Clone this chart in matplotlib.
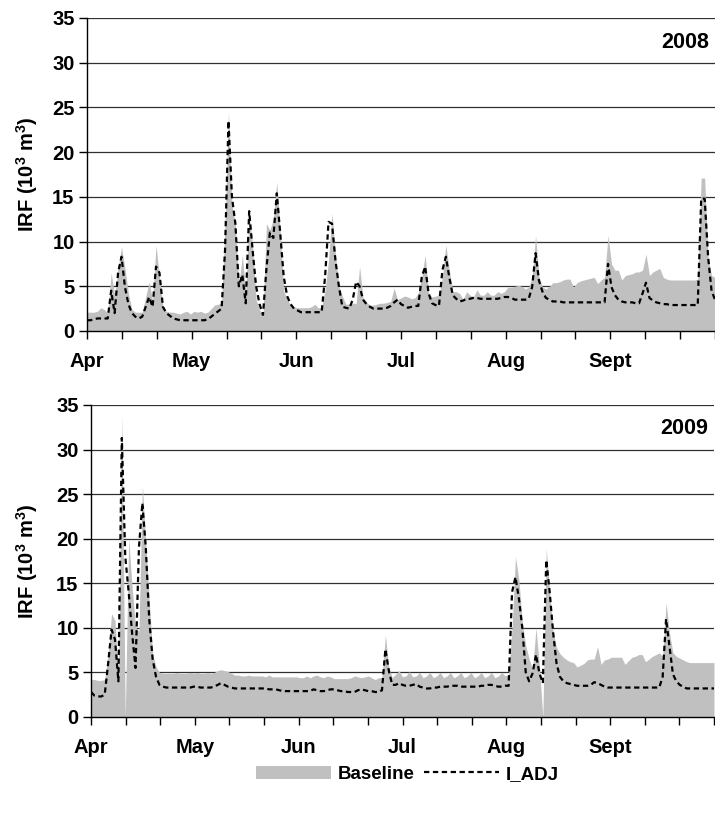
import numpy as np
import matplotlib.pyplot as plt
from matplotlib.patches import Patch
from matplotlib.lines import Line2D

plt.rcParams['font.family'] = ['Liberation Sans', 'DejaVu Sans']
plt.rcParams['font.weight'] = 'bold'
plt.rcParams['mathtext.fontset'] = 'custom'
plt.rcParams['mathtext.bf'] = 'Liberation Sans:bold'
plt.rcParams['mathtext.rm'] = 'Liberation Sans:bold'

#Month labels (every third tick) and panel years
monthLabels = ['Apr', 'May', 'Jun', 'Jul', 'Aug', 'Sept']
yearLabels = ['2008', '2009']

#Daily IRF values (10^3 m^3), 1 Apr - 30 Sept
baseline2008 = [
    2.1, 2.1, 2.1, 2.2, 2.6, 2.4, 2.0, 6.5, 4.0, 7.0,
    9.4, 7.0, 4.2, 2.4, 2.1, 2.1, 2.1, 3.8, 5.5, 3.4,
    9.6, 6.0, 2.6, 2.2, 2.1, 2.1, 2.0, 1.9, 2.1, 2.2,
    1.9, 2.2, 2.1, 2.2, 2.0, 2.1, 2.5, 2.9, 3.0, 3.1,
    12.0, 24.5, 14.0, 12.0, 5.0, 8.5, 4.4, 13.2, 9.4, 3.5,
    2.4, 1.6, 12.0, 11.3, 12.5, 16.7, 11.0, 4.5, 3.5, 2.9,
    2.7, 2.6, 2.6, 2.6, 2.6, 2.7, 3.0, 2.6, 2.6, 4.6,
    7.9, 13.2, 8.5, 5.0, 3.9, 3.0, 3.0, 3.1, 3.1, 7.2,
    3.7, 3.2, 2.9, 2.9, 3.0, 3.1, 3.1, 3.2, 3.3, 4.8,
    3.5, 3.7, 3.9, 3.8, 3.6, 3.7, 4.2, 6.0, 8.5, 4.2,
    3.8, 3.9, 4.0, 6.0, 9.6, 6.8, 4.4, 4.4, 4.2, 3.5,
    4.4, 4.0, 3.8, 4.6, 4.0, 4.0, 4.4, 4.0, 4.0, 4.4,
    4.2, 4.4, 4.9, 4.9, 5.0, 5.1, 5.0, 4.7, 4.9, 6.0,
    10.7, 6.0, 4.9, 4.7, 5.0, 5.4, 5.4, 5.5, 5.7, 5.8,
    5.8, 4.9, 5.4, 5.6, 5.7, 5.8, 5.9, 6.0, 5.3, 5.7,
    6.0, 10.7, 7.5, 6.8, 6.8, 5.7, 6.2, 6.3, 6.4, 6.6,
    6.6, 6.8, 8.6, 6.2, 6.6, 6.8, 7.0, 6.0, 5.8, 5.7,
    5.7, 5.7, 5.7, 5.7, 5.7, 5.7, 5.7, 5.8, 17.1, 17.1,
    8.1, 6.2, 6.0]
iadj2008 = [
    1.2, 1.2, 1.3, 1.4, 1.4, 1.4, 1.4, 4.5, 2.0, 6.5,
    8.3, 4.9, 3.0, 2.0, 1.6, 1.4, 1.6, 2.7, 3.8, 2.7,
    7.2, 6.5, 2.7, 2.0, 1.7, 1.4, 1.3, 1.2, 1.2, 1.2,
    1.2, 1.2, 1.2, 1.2, 1.2, 1.3, 1.6, 1.9, 2.2, 2.5,
    9.0, 23.5, 15.0, 12.0, 5.0, 6.3, 3.1, 13.4, 9.0, 5.0,
    3.0, 1.8, 7.0, 11.0, 10.4, 15.4, 10.9, 6.1, 3.9, 3.0,
    2.5, 2.3, 2.1, 2.1, 2.1, 2.1, 2.1, 2.1, 2.1, 6.1,
    12.2, 12.0, 7.9, 5.0, 2.7, 2.6, 2.5, 3.5, 5.5, 5.0,
    3.5, 3.0, 2.7, 2.5, 2.5, 2.5, 2.5, 2.6, 2.8, 3.2,
    3.5, 3.0, 2.8, 2.6, 2.7, 2.8, 2.8, 6.0, 7.2, 4.2,
    3.1, 2.9, 2.8, 6.8, 8.3, 6.0, 4.0, 3.6, 3.3, 3.4,
    3.6, 3.6, 3.7, 3.7, 3.6, 3.6, 3.6, 3.6, 3.6, 3.6,
    3.7, 3.8, 3.8, 3.7, 3.5, 3.5, 3.5, 3.5, 3.6, 4.9,
    8.7, 5.6, 4.4, 3.7, 3.5, 3.3, 3.3, 3.3, 3.2, 3.2,
    3.2, 3.2, 3.2, 3.2, 3.2, 3.2, 3.2, 3.2, 3.2, 3.2,
    3.2, 7.5, 4.9, 4.0, 3.5, 3.3, 3.2, 3.2, 3.2, 3.1,
    3.1, 4.2, 5.4, 3.7, 3.4, 3.2, 3.1, 3.0, 3.0, 2.9,
    2.9, 2.9, 2.9, 2.9, 2.9, 2.9, 2.9, 2.9, 14.8, 14.8,
    8.3, 4.5, 3.5]
baseline2009 = [
    4.2, 4.2, 4.1, 4.1, 4.2, 7.0, 11.6, 10.8, 4.5, 33.9,
    0.0, 20.1, 14.6, 10.1, 9.6, 26.0, 19.5, 13.1, 7.1, 5.6,
    5.0, 4.9, 4.9, 4.9, 4.9, 5.0, 4.9, 4.9, 4.9, 5.0,
    4.9, 5.0, 4.9, 4.9, 5.0, 4.9, 5.0, 5.2, 5.3, 5.2,
    5.1, 4.9, 4.7, 4.7, 4.6, 4.6, 4.7, 4.6, 4.6, 4.6,
    4.6, 4.5, 4.7, 4.5, 4.5, 4.5, 4.5, 4.5, 4.5, 4.5,
    4.5, 4.4, 4.4, 4.6, 4.4, 4.6, 4.7, 4.5, 4.4, 4.6,
    4.5, 4.3, 4.3, 4.3, 4.3, 4.3, 4.4, 4.6, 4.5, 4.4,
    4.5, 4.6, 4.4, 4.2, 4.4, 4.4, 9.2, 5.6, 4.4, 4.8,
    5.2, 4.5, 4.6, 5.1, 4.5, 4.6, 5.0, 4.4, 4.6, 5.0,
    4.4, 4.6, 5.0, 4.4, 4.6, 5.0, 4.4, 4.6, 5.0, 4.4,
    4.6, 5.0, 4.4, 4.6, 5.0, 4.4, 4.6, 5.0, 4.4, 4.6,
    5.0, 4.6, 4.8, 10.0, 18.0, 15.4, 10.6, 8.0, 6.5, 5.4,
    10.0, 5.7, 0.0, 18.9, 14.0, 9.5, 7.8, 7.1, 6.7, 6.4,
    6.2, 6.1, 5.6, 5.8, 6.0, 6.4, 6.5, 6.5, 7.9, 5.9,
    6.4, 6.5, 6.7, 6.7, 6.7, 6.7, 5.9, 6.3, 6.7, 6.8,
    7.0, 7.0, 6.2, 6.5, 6.8, 7.0, 7.2, 6.8, 12.8, 9.4,
    7.2, 6.8, 6.6, 6.4, 6.2, 6.1, 6.1, 6.1, 6.1, 6.1,
    6.1, 6.1, 6.1]
iadj2009 = [
    2.8, 2.4, 2.3, 2.3, 2.5, 6.0, 9.8, 8.7, 4.0, 31.3,
    18.0, 14.0, 9.4, 5.5, 19.0, 24.0, 19.0, 11.0, 6.5, 4.5,
    3.6, 3.4, 3.3, 3.3, 3.3, 3.3, 3.3, 3.3, 3.3, 3.3,
    3.4, 3.4, 3.3, 3.3, 3.3, 3.3, 3.4, 3.6, 3.8, 3.6,
    3.4, 3.3, 3.2, 3.2, 3.2, 3.2, 3.2, 3.2, 3.2, 3.2,
    3.2, 3.2, 3.1, 3.1, 3.1, 3.0, 2.9, 2.9, 2.9, 2.9,
    2.9, 2.9, 2.9, 2.9, 2.9, 3.1, 3.0, 2.9, 2.9, 3.0,
    3.1, 3.1, 3.0, 2.9, 2.9, 2.8, 2.8, 2.8, 3.0, 3.1,
    3.0, 2.9, 2.9, 2.8, 2.8, 3.0, 7.6, 5.2, 3.6, 3.6,
    3.8, 3.6, 3.5, 3.5, 3.6, 3.7, 3.4, 3.3, 3.2, 3.2,
    3.3, 3.3, 3.4, 3.4, 3.4, 3.5, 3.5, 3.5, 3.4, 3.4,
    3.4, 3.4, 3.4, 3.4, 3.5, 3.5, 3.6, 3.6, 3.5, 3.4,
    3.4, 3.5, 3.5, 14.0, 15.7, 13.3, 10.0, 5.0, 4.0, 4.9,
    7.0, 4.9, 3.8, 17.6, 14.0, 9.5, 6.0, 4.5, 4.0, 3.8,
    3.7, 3.6, 3.5, 3.5, 3.5, 3.5, 3.6, 3.9, 3.8, 3.6,
    3.4, 3.3, 3.3, 3.3, 3.3, 3.3, 3.3, 3.3, 3.3, 3.3,
    3.3, 3.3, 3.3, 3.3, 3.3, 3.3, 3.3, 4.5, 11.0, 7.9,
    4.8, 4.0, 3.6, 3.4, 3.2, 3.2, 3.2, 3.2, 3.2, 3.2,
    3.2, 3.2, 3.2]

fillColour = '#c0c0c0'
dashStyle = (0, (2.4, 1.6))

fig = plt.figure(figsize=(7.15, 8.14), dpi=100)
axTop = fig.add_axes([0.1217, 0.5934, 0.8783, 0.3845])
axBottom = fig.add_axes([0.1273, 0.1192, 0.8713, 0.3833])

def drawPanel(ax, baseline, iadj, year, labelX):
    days = np.arange(len(baseline))
    ax.fill_between(days, 0, baseline, color=fillColour, lw=0, zorder=2)
    ax.plot(days, iadj, color='black', lw=1.6, ls=dashStyle, zorder=3)

    #Axis limits, ticks every ~10 days, month label every third tick
    ax.set_xlim(0, len(baseline) - 1)
    ax.set_ylim(0, 35)
    ax.set_yticks(range(0, 36, 5))
    ax.set_xticks(np.linspace(0, len(baseline) - 1, 19))
    ax.set_xticklabels([monthLabels[i // 3] if i % 3 == 0 and i < 18 else '' for i in range(19)])
    ax.tick_params(axis='x', length=6, width=1, pad=9, labelsize=14.5)
    ax.tick_params(axis='y', length=6, width=1, pad=3, labelsize=14.5)

    #Gridlines behind the fill, only left/bottom spines
    ax.set_axisbelow(True)
    ax.yaxis.grid(True, color='#303030', lw=0.9)
    ax.spines['top'].set_visible(False)
    ax.spines['right'].set_visible(False)
    ax.spines['left'].set_linewidth(1)
    ax.spines['bottom'].set_linewidth(1)

    ax.set_ylabel('IRF (10$^{\\mathbf{3}}$ m$^{\\mathbf{3}}$)', fontsize=14.5, fontweight='bold')
    ax.yaxis.set_label_coords(labelX, 0.5)
    ax.text(0.991, 0.923, year, transform=ax.transAxes, ha='right', va='center',
            fontsize=15.5, fontweight='bold')

drawPanel(axTop, baseline2008, iadj2008, yearLabels[0], -0.075)
drawPanel(axBottom, baseline2009, iadj2009, yearLabels[1], -0.082)

#Shared legend below the panels
handles = [Patch(facecolor=fillColour, edgecolor='none', label='Baseline'),
           Line2D([], [], color='black', lw=1.6, ls=dashStyle, label='I_ADJ')]
fig.legend(handles=handles, loc='center', bbox_to_anchor=(0.57, 0.049), ncol=2,
           frameon=False, handlelength=4.0, handletextpad=0.35, columnspacing=0.5,
           prop={'size': 13.5, 'weight': 'bold'})

plt.savefig('out.png', dpi=100)
plt.close()
